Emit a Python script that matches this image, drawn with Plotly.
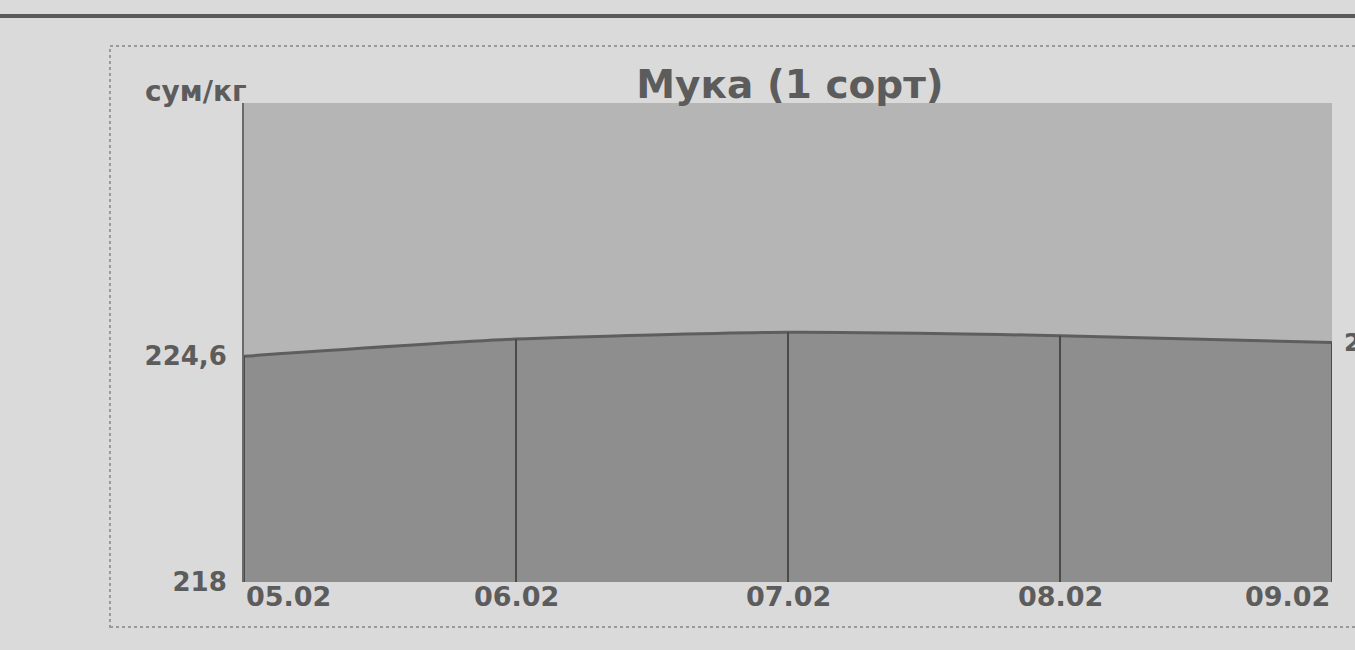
import plotly.graph_objects as go

dates = ["05.02", "06.02", "07.02", "08.02", "09.02"]
prices = [224.6, 225.1, 225.3, 225.2, 225.0]
y_ticks = [218, 224.6]
y_tick_labels = ["218", "224,6"]
title_text = "Мука (1 сорт)"
unit_text = "сум/кг"
last_label = "225,0"

W, H = 1355, 650
L, R, T, B = 244, 23, 103, 68
pw, ph = W - L - R, H - T - B
FONT = "DejaVu Sans"
TXT = "#5c5c5c"

def px(x):
    return (x - L) / pw

def py(y):
    return (H - B - y) / ph

ymin, ymax = 218, 232
idx = list(range(len(dates)))

fig = go.Figure()
fig.add_trace(go.Scatter(
    x=idx, y=prices, mode="lines", fill="tozeroy",
    fillcolor="#8e8e8e", line=dict(color="#5e5e5e", width=3, shape="spline", smoothing=0.6),
    hoverinfo="skip", showlegend=False))

# vertical separators from baseline to the line at each date
vx, vy = [], []
for i, v in zip(idx, prices):
    vx += [i, i, None]
    vy += [ymin, v, None]
fig.add_trace(go.Scatter(x=vx, y=vy, mode="lines", line=dict(color="#4a4a4a", width=2),
                         hoverinfo="skip", showlegend=False))

annotations = []
for i, d in zip(idx, dates):
    anchor = "left" if i == 0 else ("right" if i == len(dates) - 1 else "center")
    annotations.append(dict(x=i, y=ymin, xref="x", yref="y", text=d, showarrow=False,
                            xanchor=anchor, yanchor="top", yshift=3,
                            font=dict(family=FONT, size=27, color=TXT)))
annotations.append(dict(x=px(143), y=py(92), xref="paper", yref="paper", text=unit_text,
                        showarrow=False, xanchor="left", yanchor="middle",
                        font=dict(family=FONT, size=28, color=TXT)))
annotations.append(dict(x=len(dates) - 1, y=prices[-1], xref="x", yref="y", text=last_label,
                        showarrow=False, xanchor="left", yanchor="middle", xshift=10,
                        font=dict(family=FONT, size=24, color=TXT)))

shapes = [
    dict(type="line", xref="paper", yref="paper", x0=px(0), x1=px(W), y0=py(16), y1=py(16),
         line=dict(color="#5a5a5a", width=4)),
    dict(type="rect", xref="paper", yref="paper", x0=px(110), x1=px(W + 20), y0=py(627), y1=py(46),
         line=dict(color="#9a9a9a", width=2, dash="dot")),
]

fig.update_layout(
    width=W, height=H,
    margin=dict(l=L, r=R, t=T, b=B, autoexpand=False),
    paper_bgcolor="#dadada", plot_bgcolor="#b5b5b5",
    title=dict(text="<b>" + title_text + "</b>", xref="container", x=790 / W, xanchor="center",
               yref="container", y=1 - 84 / H, yanchor="middle",
               font=dict(family=FONT, size=39, color=TXT)),
    xaxis=dict(range=[0, len(dates) - 1], showticklabels=False, showgrid=False, zeroline=False,
               showline=False, fixedrange=True),
    yaxis=dict(range=[ymin, ymax], tickvals=y_ticks, ticktext=["<b>" + t + "</b>" for t in y_tick_labels],
               showgrid=False, zeroline=False, showline=True, linecolor="#6a6a6a", linewidth=2,
               ticks="", ticklabelstandoff=10, fixedrange=True,
               tickfont=dict(family=FONT, size=26, color=TXT)),
    annotations=annotations, shapes=shapes,
)
for a in fig.layout.annotations:
    a.text = "<b>" + a.text + "</b>"

fig.write_html("out.html", config={"displayModeBar": False},
               post_script="document.body.style.margin='0';")
